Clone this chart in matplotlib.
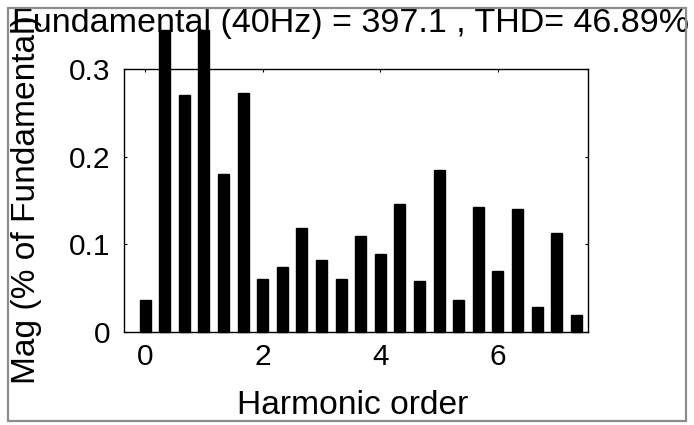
import matplotlib
matplotlib.use('Agg')
import matplotlib.pyplot as plt
import numpy as np
from matplotlib.patches import Rectangle

plt.rcParams['font.family'] = ['Liberation Sans', 'DejaVu Sans']

# harmonic orders (steps of 1/3) and magnitudes
order = np.arange(23) / 3.0
mag = [0.037, 0.345, 0.270, 0.345, 0.180, 0.273, 0.061, 0.074, 0.119, 0.082,
       0.061, 0.110, 0.089, 0.146, 0.058, 0.185, 0.037, 0.143, 0.070, 0.140,
       0.028, 0.113, 0.019]
xticks = [0, 2, 4, 6]
yticks = [0, 0.1, 0.2, 0.3]
ytick_labels = ['0', '0.1', '0.2', '0.3']
fund_freq = 40
fund_mag = 397.1
thd = 46.89

fs = 21.5
fig = plt.figure(figsize=(6.94, 4.25), dpi=100)
ax = fig.add_axes([124 / 694, 1 - 332 / 425, 463.5 / 694, 263 / 425])

ax.bar(order, mag, width=0.187, color='black', edgecolor='black', clip_on=False, zorder=3)

ax.set_xlim(-0.36, 7.525)
ax.set_ylim(0, 0.3)
ax.set_xticks(xticks)
ax.set_xticklabels([str(t) for t in xticks])
ax.set_yticks(yticks)
ax.set_yticklabels(ytick_labels)
ax.tick_params(direction='in', top=True, right=True, length=2.5, width=0.8,
               labelsize=fs, colors='black')
ax.tick_params(axis='x', pad=8)
ax.tick_params(axis='y', pad=9.5)
for s in ax.spines.values():
    s.set_linewidth(1.0)

ax.set_title('Fundamental (%dHz) = %.1f , THD= %.2f%%' % (fund_freq, fund_mag, thd),
             fontsize=24.5, x=(350.5 - 124) / 463.5, y=(332 - 40) / 263, va='baseline')
ax.set_xlabel('Harmonic order', fontsize=24.2)
ax.xaxis.set_label_coords((352.5 - 124) / 463.5, (332 - 413.5) / 263)
ax.xaxis.label.set_va('baseline')
ax.set_ylabel('Mag (% of Fundamental)', fontsize=24.1)
ax.yaxis.label.set(va='center', ha='center')
ax.yaxis.set_label_coords((26.5 - 124) / 463.5, (332 - 200) / 263)

# grey frame around the figure
fig.patches.append(Rectangle((8 / 694, 1 - 421 / 425), 678 / 694, 413 / 425,
                             transform=fig.transFigure, fill=False,
                             edgecolor='#8c8c8c', linewidth=1.6))

fig.savefig('out.png', dpi=100)
